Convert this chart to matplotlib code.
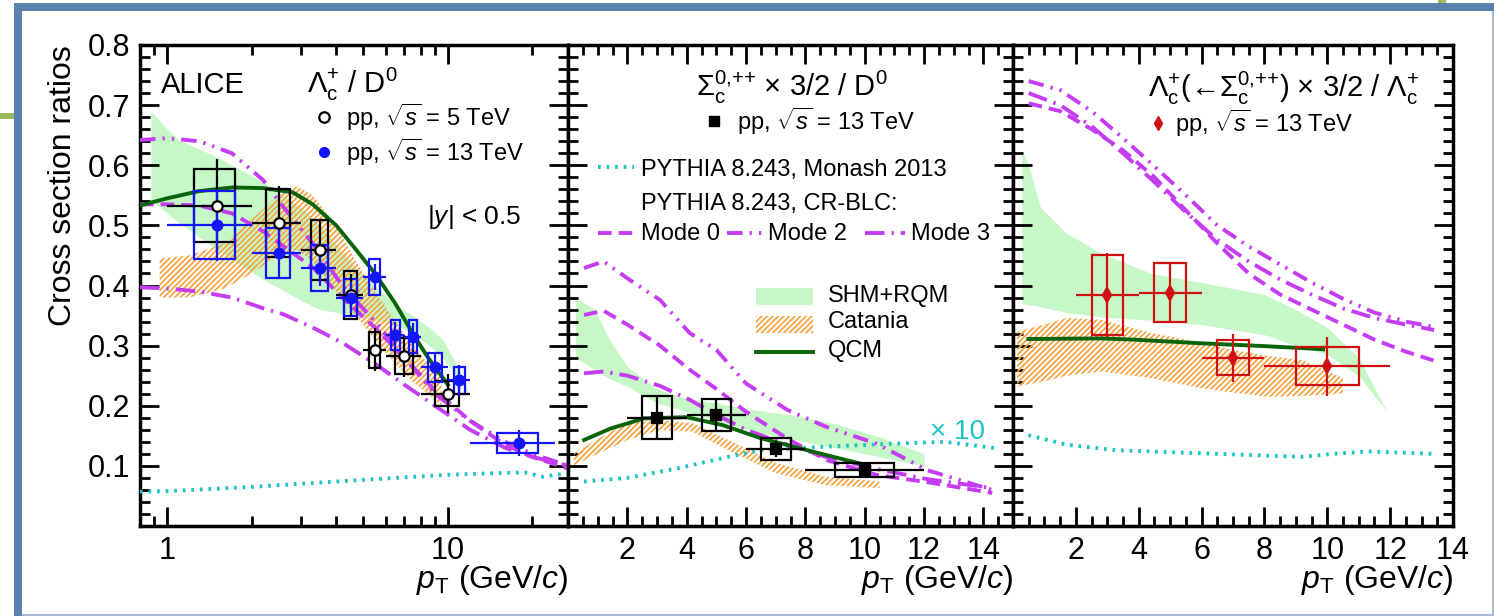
import numpy as np
import matplotlib
matplotlib.use("Agg")
import matplotlib.pyplot as plt
from matplotlib.lines import Line2D
from matplotlib.patches import Rectangle

plt.rcParams["font.family"] = ["Liberation Sans", "DejaVu Sans"]
plt.rcParams["mathtext.fontset"] = "custom"
plt.rcParams["mathtext.rm"] = "Liberation Sans"
plt.rcParams["mathtext.it"] = "Liberation Sans:italic"
plt.rcParams["mathtext.bf"] = "Liberation Sans:bold"
plt.rcParams["hatch.linewidth"] = 1.3

# ---------------- data: Lambda_c / D0 (left panel) ----------------
pt_5 = [1.5, 2.5, 3.5, 4.5, 5.5, 7.0, 10.0]
lo_5 = [1, 2, 3, 4, 5, 6, 8]
hi_5 = [2, 3, 4, 5, 6, 8, 12]
r_5 = [0.533, 0.504, 0.459, 0.384, 0.293, 0.283, 0.220]
stat_5 = [0.078, 0.062, 0.05, 0.035, 0.036, 0.035, 0.032]
syst_5 = [0.061, 0.057, 0.05, 0.04, 0.03, 0.03, 0.021]

pt_13 = [1.5, 2.5, 3.5, 4.5, 5.5, 6.5, 7.5, 9.0, 11.0, 18.0]
lo_13 = [1, 2, 3, 4, 5, 6, 7, 8, 10, 12]
hi_13 = [2, 3, 4, 5, 6, 7, 8, 10, 12, 24]
r_13 = [0.501, 0.454, 0.429, 0.380, 0.414, 0.318, 0.315, 0.264, 0.242, 0.138]
stat_13 = [0.06, 0.04, 0.03, 0.025, 0.022, 0.022, 0.022, 0.022, 0.025, 0.022]
syst_13 = [0.057, 0.041, 0.038, 0.03, 0.03, 0.025, 0.028, 0.024, 0.022, 0.017]

shm_pt_l = [0.875, 1.0, 1.1, 1.5, 2.2, 3.0, 3.5, 4.7, 5.5, 6.4, 7.5, 8.6, 9.6, 10.7, 11.8]
shm_hi_l = [0.69, 0.66, 0.642, 0.614, 0.572, 0.53, 0.50, 0.43, 0.40, 0.37, 0.35, 0.33, 0.31, 0.27, 0.225]
shm_lo_l = [0.542, 0.52, 0.505, 0.46, 0.41, 0.375, 0.36, 0.35, 0.343, 0.337, 0.32, 0.30, 0.28, 0.25, 0.22]

cat_pt_l = [0.94, 1.2, 1.6, 2.0, 2.5, 2.9, 3.3, 4.0, 4.7, 5.5, 6.5, 7.5, 8.5, 9.5]
cat_hi_l = [0.445, 0.45, 0.47, 0.51, 0.55, 0.565, 0.55, 0.50, 0.44, 0.39, 0.34, 0.30, 0.27, 0.25]
cat_lo_l = [0.38, 0.38, 0.395, 0.42, 0.45, 0.46, 0.44, 0.39, 0.35, 0.31, 0.27, 0.24, 0.22, 0.20]

qcm_pt_l = [0.8, 1.0, 1.3, 1.7, 2.2, 2.8, 3.3, 4.0, 4.7, 5.5, 6.5, 7.5, 8.5, 10.0]
qcm_l = [0.533, 0.545, 0.557, 0.563, 0.562, 0.555, 0.535, 0.50, 0.46, 0.42, 0.37, 0.32, 0.28, 0.235]

pyt_pt_l = [0.8, 1.0, 1.3, 1.7, 2.2, 2.6, 3.3, 4.2, 5.5, 7.0, 9.0, 12.0, 16.0, 20.0, 27.0]
mode2_l = [0.642, 0.645, 0.64, 0.62, 0.575, 0.53, 0.47, 0.40, 0.34, 0.28, 0.22, 0.175, 0.14, 0.12, 0.10]
mode0_l = [0.535, 0.535, 0.533, 0.52, 0.49, 0.465, 0.43, 0.38, 0.33, 0.28, 0.225, 0.175, 0.135, 0.115, 0.095]
mode3_l = [0.397, 0.395, 0.39, 0.38, 0.362, 0.352, 0.33, 0.305, 0.27, 0.235, 0.2, 0.16, 0.13, 0.115, 0.10]
monash_pt_l = [0.8, 1.0, 2.0, 4.7, 9.8, 15.0, 18.8, 21.8, 27.0]
monash_l = [0.057, 0.058, 0.065, 0.076, 0.085, 0.088, 0.089, 0.082, 0.088]

# ---------------- data: Sigma_c / D0 (middle panel) ----------------
pt_s = [3.0, 5.0, 7.0, 10.0]
lo_s = [2, 4, 6, 8]
hi_s = [4, 6, 8, 12]
r_s = [0.180, 0.185, 0.128, 0.093]
stat_s = [0.036, 0.025, 0.013, 0.011]
syst_s = [0.036, 0.027, 0.018, 0.012]

shm_pt_m = [0.25, 0.9, 1.4, 2.0, 3.0, 4.0, 5.0, 6.0, 7.5, 9.0, 10.5, 12.0]
shm_hi_m = [0.38, 0.36, 0.31, 0.265, 0.228, 0.212, 0.205, 0.195, 0.185, 0.17, 0.148, 0.12]
shm_lo_m = [0.28, 0.26, 0.245, 0.232, 0.205, 0.19, 0.175, 0.16, 0.145, 0.13, 0.115, 0.10]

cat_pt_m = [0.2, 1.0, 2.0, 3.1, 4.2, 5.4, 7.0, 8.7, 10.5]
cat_hi_m = [0.121, 0.145, 0.171, 0.176, 0.171, 0.143, 0.105, 0.082, 0.074]
cat_lo_m = [0.101, 0.12, 0.143, 0.16, 0.157, 0.126, 0.088, 0.068, 0.063]

qcm_pt_m = [0.54, 1.43, 2.56, 4.0, 5.2, 6.5, 7.6, 8.7, 10.0]
qcm_m = [0.143, 0.162, 0.179, 0.181, 0.168, 0.146, 0.132, 0.118, 0.102]

pyt_pt_m = [0.54, 1.2, 2.0, 3.1, 4.1, 5.0, 6.0, 7.4, 8.7, 10.4, 12.1, 14.3]
mode2_m = [0.429, 0.44, 0.412, 0.376, 0.321, 0.293, 0.237, 0.193, 0.165, 0.137, 0.093, 0.06]
mode0_m = [0.351, 0.358, 0.335, 0.30, 0.26, 0.228, 0.19, 0.145, 0.11, 0.085, 0.073, 0.055]
mode3_m = [0.254, 0.257, 0.25, 0.233, 0.21, 0.185, 0.16, 0.135, 0.115, 0.095, 0.078, 0.063]
monash_pt_m = [0.54, 2.0, 3.7, 5.4, 6.5, 8.7, 11.0, 12.7, 14.5]
monash_m = [0.074, 0.08, 0.096, 0.115, 0.126, 0.132, 0.137, 0.14, 0.129]

# ---------------- data: Lambda_c(<-Sigma_c) / Lambda_c (right panel) ----------------
pt_r = [3.0, 5.0, 7.0, 10.0]
lo_r = [2, 4, 6, 8]
hi_r = [4, 6, 8, 12]
r_r = [0.384, 0.388, 0.280, 0.266]
stat_r = [0.07, 0.05, 0.04, 0.049]
syst_r = [0.067, 0.049, 0.029, 0.031]

shm_pt_r = [0.28, 0.5, 0.87, 1.7, 2.8, 4.4, 6.0, 8.0, 9.0, 10.0, 11.0, 11.9]
shm_hi_r = [0.625, 0.60, 0.53, 0.487, 0.454, 0.42, 0.405, 0.385, 0.36, 0.33, 0.28, 0.19]
shm_lo_r = [0.37, 0.368, 0.365, 0.355, 0.348, 0.342, 0.335, 0.318, 0.30, 0.285, 0.25, 0.19]

cat_pt_r = [0.13, 1.2, 1.72, 2.8, 4.4, 6.0, 7.0, 8.1, 9.2, 10.5]
cat_hi_r = [0.323, 0.338, 0.346, 0.343, 0.321, 0.305, 0.293, 0.283, 0.276, 0.246]
cat_lo_r = [0.232, 0.243, 0.25, 0.257, 0.246, 0.229, 0.222, 0.215, 0.216, 0.221]

qcm_pt_r = [0.49, 2.77, 3.83, 5.95, 8.07, 9.87]
qcm_r = [0.311, 0.312, 0.31, 0.304, 0.299, 0.294]

pyt_pt_r = [0.5, 1.5, 2.5, 3.5, 4.5, 5.5, 6.5, 7.5, 8.5, 9.5, 10.5, 11.5, 12.5, 13.4]
mode2_r = [0.74, 0.725, 0.69, 0.645, 0.598, 0.55, 0.50, 0.465, 0.435, 0.405, 0.378, 0.355, 0.34, 0.331]
mode3_r = [0.72, 0.70, 0.665, 0.62, 0.572, 0.522, 0.476, 0.44, 0.41, 0.385, 0.362, 0.346, 0.335, 0.326]
mode0_r = [0.703, 0.69, 0.66, 0.625, 0.58, 0.525, 0.47, 0.42, 0.385, 0.36, 0.335, 0.31, 0.29, 0.275]
monash_pt_r = [0.49, 1.72, 3.3, 5.95, 9.2, 10.2, 11.3, 13.4]
monash_r = [0.151, 0.135, 0.126, 0.121, 0.115, 0.12, 0.124, 0.12]

# ---------------- styles ----------------
c_shm = "#c6f7c6"
c_cat = "#f7a445"
c_qcm = "#0a640a"
c_pyt = "#c53cf2"
c_mon = "#1ec3c3"
c_blue = "#1414ff"
c_red = "#d01010"
lw_pyt = 2.8
ls_m0 = (0, (3.5, 1.8))
ls_m2 = (0, (4, 1.8, 0.6, 1.8, 0.6, 1.8))
ls_m3 = (0, (5, 1.8, 0.6, 1.8))
ls_mon = (0, (0.7, 1.5))

W, H = 1494, 616


def fx(px):
	return px/W


def fy(py):
	return 1-py/H


def draw_points(ax, pt, lo, hi, r, stat, syst, color, marker, mfc, ms):
	pt=np.array(pt); lo=np.array(lo); hi=np.array(hi)
	r=np.array(r); stat=np.array(stat); syst=np.array(syst)
	ax.bar(pt, 2*syst, width=(hi-lo)/2, bottom=r-syst, fill=False,
		edgecolor=color, linewidth=1.6, zorder=6)
	ax.errorbar(pt, r, xerr=[pt-lo, hi-pt], yerr=stat, fmt=marker, color=color,
		mfc=mfc, mec=color, mew=1.6, ms=ms, elinewidth=1.6, capsize=0, zorder=7)


def draw_models(ax, shm, cat, qcm, pyt, mon):
	ax.fill_between(shm[0], shm[2], shm[1], color=c_shm, linewidth=0, zorder=1)
	ax.fill_between(cat[0], cat[2], cat[1], facecolor="none", edgecolor=c_cat,
		hatch="//////", linewidth=0, zorder=2)
	ax.plot(mon[0], mon[1], color=c_mon, lw=2.8, linestyle=ls_mon, zorder=3)
	ax.plot(pyt[0], pyt[1], color=c_pyt, lw=lw_pyt, linestyle=ls_m0, zorder=3)
	ax.plot(pyt[0], pyt[2], color=c_pyt, lw=lw_pyt, linestyle=ls_m2, zorder=3)
	ax.plot(pyt[0], pyt[3], color=c_pyt, lw=lw_pyt, linestyle=ls_m3, zorder=3)
	ax.plot(qcm[0], qcm[1], color=c_qcm, lw=2.8, zorder=4)


def style_axis(ax):
	ax.set_ylim(0, 0.8)
	ax.set_yticks(np.arange(0.1, 0.81, 0.1))
	ax.set_yticks(np.arange(0, 0.81, 0.02), minor=True)
	ax.tick_params(which="both", direction="in", top=True, right=True, width=2, labelsize=22)
	ax.tick_params(which="major", length=14, pad=7)
	ax.tick_params(which="minor", length=7)
	for s in ax.spines.values():
		s.set_linewidth(2.5)


fig=plt.figure(figsize=(W/100, H/100), dpi=100)

ax1=fig.add_axes([fx(140), fy(526), (568-140)/W, (526-45)/H])
ax2=fig.add_axes([fx(568), fy(526), (1013-568)/W, (526-45)/H])
ax3=fig.add_axes([fx(1013), fy(526), (1453-1013)/W, (526-45)/H])

# left panel
draw_models(ax1, (shm_pt_l, shm_hi_l, shm_lo_l), (cat_pt_l, cat_hi_l, cat_lo_l),
	(qcm_pt_l, qcm_l), (pyt_pt_l, mode0_l, mode2_l, mode3_l), (monash_pt_l, monash_l))
draw_points(ax1, pt_5, lo_5, hi_5, r_5, stat_5, syst_5, "black", "o", "white", 7.5)
draw_points(ax1, pt_13, lo_13, hi_13, r_13, stat_13, syst_13, c_blue, "o", c_blue, 7)
ax1.set_xscale("log")
ax1.set_xlim(0.8, 26.8)
style_axis(ax1)
ax1.set_xticks([1, 10])
ax1.set_xticklabels(["1", "10"])
ax1.set_xticks([0.9, 2, 3, 4, 5, 6, 7, 8, 9, 20], minor=True)
ax1.xaxis.set_minor_formatter(matplotlib.ticker.NullFormatter())
ax1.set_yticklabels(["0.1", "0.2", "0.3", "0.4", "0.5", "0.6", "0.7", "0.8"])

# middle panel
draw_models(ax2, (shm_pt_m, shm_hi_m, shm_lo_m), (cat_pt_m, cat_hi_m, cat_lo_m),
	(qcm_pt_m, qcm_m), (pyt_pt_m, mode0_m, mode2_m, mode3_m), (monash_pt_m, monash_m))
draw_points(ax2, pt_s, lo_s, hi_s, r_s, stat_s, syst_s, "black", "s", "black", 7)
ax2.set_xlim(0, 15)
style_axis(ax2)
ax2.set_xticks(np.arange(2, 15, 2))
ax2.set_xticks(np.arange(0, 15.01, 0.5), minor=True)
ax2.set_yticklabels([])

# right panel
draw_models(ax3, (shm_pt_r, shm_hi_r, shm_lo_r), (cat_pt_r, cat_hi_r, cat_lo_r),
	(qcm_pt_r, qcm_r), (pyt_pt_r, mode0_r, mode2_r, mode3_r), (monash_pt_r, monash_r))
draw_points(ax3, pt_r, lo_r, hi_r, r_r, stat_r, syst_r, c_red, "d", c_red, 7)
ax3.set_xlim(0, 14)
style_axis(ax3)
ax3.set_xticks(np.arange(2, 15, 2))
ax3.set_xticks(np.arange(0, 14.01, 0.5), minor=True)
ax3.set_yticklabels([])

# axis titles
fig.text(fx(63), fy(45), "Cross section ratios", rotation=90, ha="center", va="top", fontsize=23)
for xr in [568, 1013, 1453]:
	fig.text(fx(xr), fy(588), r"$p_{\rm T}$ (GeV/$c$)", ha="right", va="baseline", fontsize=23)

# left panel texts
fig.text(fx(161), fy(93), "ALICE", ha="left", va="baseline", fontsize=21)
fig.text(fx(307), fy(93), r"$\Lambda_{\rm c}^{+}$ / D$^{0}$", ha="left", va="baseline", fontsize=21)
fig.add_artist(Line2D([fx(324)], [fy(117)], marker="o", ms=7.5, mfc="white", mec="black", mew=1.6, ls="none"))
fig.add_artist(Line2D([fx(324)], [fy(152)], marker="o", ms=7, mfc=c_blue, mec=c_blue, ls="none"))
fig.text(fx(346), fy(117), r"pp, $\sqrt{s}$ = 5 TeV", ha="left", va="center", fontsize=17)
fig.text(fx(346), fy(152), r"pp, $\sqrt{s}$ = 13 TeV", ha="left", va="center", fontsize=17)
fig.text(fx(427), fy(217), r"|$y$| < 0.5", ha="left", va="center", fontsize=19)

# middle panel texts and legend
fig.text(fx(792), fy(96), r"$\Sigma_{\rm c}^{0{,}{+}{+}}$ $\times$ 3/2 / D$^{0}$", ha="center", va="baseline", fontsize=21)
fig.add_artist(Line2D([fx(714)], [fy(121)], marker="s", ms=6.5, mfc="black", mec="black", ls="none"))
fig.text(fx(737), fy(121), r"pp, $\sqrt{s}$ = 13 TeV", ha="left", va="center", fontsize=17)
fig.add_artist(Line2D([fx(598), fx(634)], [fy(167)]*2, color=c_mon, lw=2.8, ls=ls_mon))
fig.text(fx(641), fy(170), "PYTHIA 8.243, Monash 2013", ha="left", va="center", fontsize=17)
fig.text(fx(641), fy(204), "PYTHIA 8.243, CR-BLC:", ha="left", va="center", fontsize=17)
fig.add_artist(Line2D([fx(598), fx(634)], [fy(233)]*2, color=c_pyt, lw=lw_pyt, ls=ls_m0))
fig.text(fx(641), fy(234), "Mode 0", ha="left", va="center", fontsize=17)
fig.add_artist(Line2D([fx(727), fx(762)], [fy(233)]*2, color=c_pyt, lw=lw_pyt, ls=ls_m2))
fig.text(fx(768), fy(234), "Mode 2", ha="left", va="center", fontsize=17)
fig.add_artist(Line2D([fx(865), fx(905)], [fy(233)]*2, color=c_pyt, lw=lw_pyt, ls=ls_m3))
fig.text(fx(911), fy(234), "Mode 3", ha="left", va="center", fontsize=17)
fig.add_artist(Rectangle((fx(756), fy(305)), 57/W, 17/H, transform=fig.transFigure,
	facecolor=c_shm, edgecolor="none"))
fig.text(fx(828), fy(296), "SHM+RQM", ha="left", va="center", fontsize=17)
fig.add_artist(Rectangle((fx(756), fy(333)), 57/W, 17/H, transform=fig.transFigure,
	facecolor="none", edgecolor=c_cat, hatch="//////", linewidth=0))
fig.text(fx(828), fy(322), "Catania", ha="left", va="center", fontsize=17)
fig.add_artist(Line2D([fx(756), fx(813)], [fy(352)]*2, color=c_qcm, lw=2.8))
fig.text(fx(828), fy(351), "QCM", ha="left", va="center", fontsize=17)
fig.text(fx(930), fy(432), "× 10", color=c_mon, ha="left", va="center", fontsize=20)

# right panel texts
fig.text(fx(1284), fy(97),
	r"$\Lambda_{\rm c}^{+}$(←$\Sigma_{\rm c}^{0{,}{+}{+}}$) $\times$ 3/2 / $\Lambda_{\rm c}^{+}$",
	ha="center", va="baseline", fontsize=21)
fig.add_artist(Line2D([fx(1158)], [fy(123)], marker="d", ms=7, mfc=c_red, mec=c_red, ls="none"))
fig.text(fx(1175), fy(123), r"pp, $\sqrt{s}$ = 13 TeV", ha="left", va="center", fontsize=17)

# slide frame around the figure
c_frame = "#5b80ae"
fig.add_artist(Rectangle((fx(14), 0), 8/W, (616-3)/H, transform=fig.transFigure, facecolor=c_frame, edgecolor="none"))
fig.add_artist(Rectangle((fx(14), fy(11)), (W-14)/W, 8/H, transform=fig.transFigure, facecolor=c_frame, edgecolor="none"))
fig.add_artist(Rectangle((fx(1492), 0), 2/W, fy(11), transform=fig.transFigure, facecolor="#a8bcd3", edgecolor="none"))
fig.add_artist(Rectangle((fx(22), 0), (W-22)/W, 2/H, transform=fig.transFigure, facecolor="#a8bcd3", edgecolor="none"))
fig.add_artist(Rectangle((0, fy(119)), 14/W, 6/H, transform=fig.transFigure, facecolor="#9bbb59", edgecolor="none"))
fig.add_artist(Rectangle((fx(1438), fy(3)), 8/W, 3/H, transform=fig.transFigure, facecolor="#9bbb59", edgecolor="none"))

fig.savefig("out.png", dpi=100)
plt.close()
